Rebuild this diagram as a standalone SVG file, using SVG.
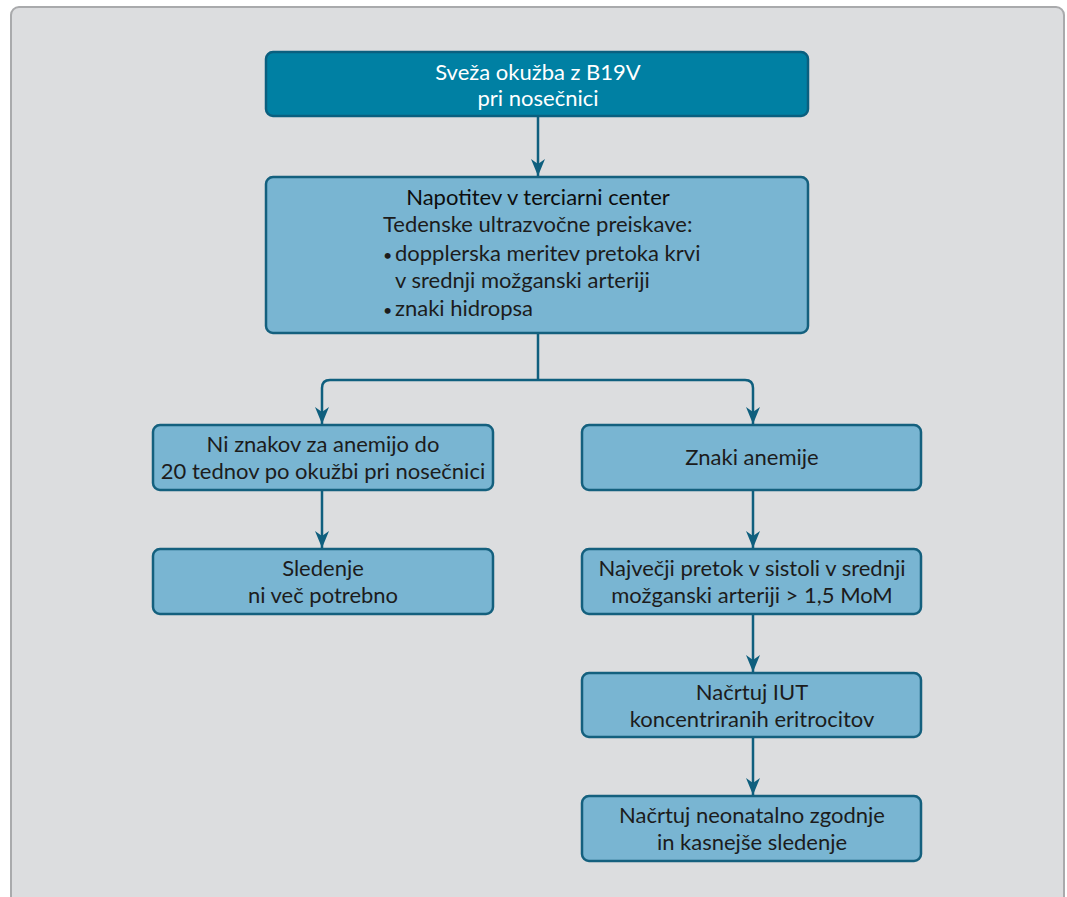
<svg xmlns="http://www.w3.org/2000/svg" width="1067" height="897" viewBox="0 0 1067 897">
<defs>
<style>
.box{fill:#79b5d2;stroke:#14607e;stroke-width:2.5}
.top{fill:#0080a3;stroke:#0a5f7f;stroke-width:2.5}
.t{font-family:Lato,"Liberation Sans",sans-serif;font-size:22px;fill:#1c1c1c;text-anchor:middle}
.tl{font-family:Lato,"Liberation Sans",sans-serif;font-size:22px;fill:#1c1c1c}
.w{fill:#ffffff}
.c{fill:none;stroke:#0f5f7e;stroke-width:2.5}
</style>
<marker id="ah" viewBox="0 0 17 14" refX="17" refY="7" markerWidth="17" markerHeight="14" markerUnits="userSpaceOnUse" orient="auto">
<path d="M0,0 L17,7 L0,14 L5,7 Z" fill="#0f5f7e"/>
</marker>
</defs>
<rect x="0" y="0" width="1067" height="897" fill="#ffffff"/>
<rect x="11" y="7" width="1053" height="900" rx="8" fill="#dcdddf" stroke="#a9aaac" stroke-width="2"/>
<g id="connectors">
<path class="c" d="M538,116 V176" marker-end="url(#ah)"/>
<path class="c" d="M538,333 V380"/>
<path class="c" d="M538,380 H330 Q322,380 322,388 V424" marker-end="url(#ah)"/>
<path class="c" d="M538,380 H745 Q753,380 753,388 V424" marker-end="url(#ah)"/>
<path class="c" d="M322,490 V548" marker-end="url(#ah)"/>
<path class="c" d="M753,490 V548" marker-end="url(#ah)"/>
<path class="c" d="M753,614 V672" marker-end="url(#ah)"/>
<path class="c" d="M753,737 V795" marker-end="url(#ah)"/>
</g>
<g id="n1">
<rect class="top" x="266" y="52" width="542" height="64" rx="7"/>
<text class="t w" x="538" y="80">Sveža okužba z B19V</text>
<text class="t w" x="538" y="106">pri nosečnici</text>
</g>
<g id="n2">
<rect class="box" x="266" y="177" width="542" height="156" rx="7"/>
<text class="t" x="538" y="205" style="fill:#0d0d0d">Napotitev v terciarni center</text>
<text class="tl" x="383" y="232">Tedenske ultrazvočne preiskave:</text>
<text class="tl" x="383" y="261"><tspan font-size="16">•</tspan><tspan x="395">dopplerska meritev pretoka krvi</tspan></text>
<text class="tl" x="395" y="288">v srednji možganski arteriji</text>
<text class="tl" x="383" y="316"><tspan font-size="16">•</tspan><tspan x="395">znaki hidropsa</tspan></text>
</g>
<g id="n3">
<rect class="box" x="153" y="425" width="340" height="65" rx="7"/>
<text class="t" x="323" y="452">Ni znakov za anemijo do</text>
<text class="t" x="323" y="479">20 tednov po okužbi pri nosečnici</text>
</g>
<g id="n4">
<rect class="box" x="582" y="425" width="339" height="65" rx="7"/>
<text class="t" x="752" y="465">Znaki anemije</text>
</g>
<g id="n5">
<rect class="box" x="153" y="549" width="340" height="65" rx="7"/>
<text class="t" x="323" y="576">Sledenje</text>
<text class="t" x="323" y="603">ni več potrebno</text>
</g>
<g id="n6">
<rect class="box" x="582" y="549" width="339" height="65" rx="7"/>
<text class="t" x="752" y="576">Največji pretok v sistoli v srednji</text>
<text class="t" x="752" y="603">možganski arteriji &gt; 1,5 MoM</text>
</g>
<g id="n7">
<rect class="box" x="582" y="673" width="339" height="64" rx="7"/>
<text class="t" x="752" y="700">Načrtuj IUT</text>
<text class="t" x="752" y="727">koncentriranih eritrocitov</text>
</g>
<g id="n8">
<rect class="box" x="582" y="796" width="339" height="65" rx="7"/>
<text class="t" x="752" y="823">Načrtuj neonatalno zgodnje</text>
<text class="t" x="752" y="850">in kasnejše sledenje</text>
</g>
</svg>
